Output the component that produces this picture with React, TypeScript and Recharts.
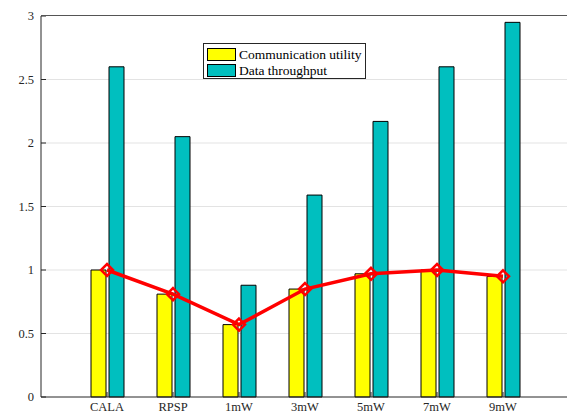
import React from 'react';
import { ComposedChart, Bar, Line, XAxis, YAxis, CartesianGrid } from 'recharts';

const categories = ['CALA', 'RPSP', '1mW', '3mW', '5mW', '7mW', '9mW'];
const utility = [1.0, 0.81, 0.57, 0.85, 0.97, 1.0, 0.95];
const throughput = [2.6, 2.05, 0.88, 1.59, 2.17, 2.6, 2.95];
const yTicks = [0, 0.5, 1, 1.5, 2, 2.5, 3];
const gridValues = [0.5, 1, 1.5, 2, 2.5];

const data = categories.map((name, i) => ({
  name,
  utility: utility[i],
  throughput: throughput[i],
}));

const FONT = '"Liberation Serif", "Times New Roman", serif';
const AXIS = '#262626';
const YELLOW = '#ffff00';
const CYAN = '#00bfbf';
const RED = '#ff0000';

const CHART_W = 575;
const CHART_H = 414;
const MARGIN = { top: 16, right: 6, bottom: 0, left: 0 };
const Y_AXIS_W = 41;

// bottom axis: category label plus an inward tick mark
const BottomTick = (props: any) => {
  const { x, y, payload } = props;
  return (
    <g>
      <line x1={x} y1={y} x2={x} y2={y - 5} stroke={AXIS} strokeWidth={1} />
      <text x={x} y={y + 14} textAnchor="middle" fontFamily={FONT} fontSize={12.5} fill={AXIS}>
        {payload.value}
      </text>
    </g>
  );
};

// left axis: value label plus an inward tick mark
const LeftTick = (props: any) => {
  const { x, y, payload } = props;
  return (
    <g>
      <line x1={x} y1={y} x2={x + 5} y2={y} stroke={AXIS} strokeWidth={1} />
      <text x={x - 7} y={y} dy="0.35em" textAnchor="end" fontFamily={FONT} fontSize={12.5} fill={AXIS}>
        {payload.value}
      </text>
    </g>
  );
};

const Diamond = (props: any) => {
  const { cx, cy, index } = props;
  if (cx == null || cy == null) return null;
  const r = 6;
  return (
    <polygon
      key={`d-${index}`}
      points={`${cx},${cy - r} ${cx + r},${cy} ${cx},${cy + r} ${cx - r},${cy}`}
      fill="none"
      stroke={RED}
      strokeWidth={2.5}
    />
  );
};

const legendItems = [
  { label: 'Communication utility', color: YELLOW },
  { label: 'Data throughput', color: CYAN },
];

const LegendBox = () => (
  <div
    style={{
      position: 'absolute',
      left: 203,
      top: 43,
      border: `1px solid ${AXIS}`,
      background: '#fff',
      width: 161,
      height: 34,
      fontFamily: FONT,
      fontSize: 13.5,
      color: '#000',
    }}
  >
    {legendItems.map((it, i) => (
      <div
        key={it.label}
        style={{ position: 'absolute', left: 3, top: 4 + i * 16, height: 13, display: 'flex', alignItems: 'center', whiteSpace: 'nowrap' }}
      >
        <span
          style={{
            display: 'inline-block',
            width: 27,
            height: 11,
            background: it.color,
            border: '1px solid #000',
            marginRight: 3,
          }}
        />
        <span style={{ lineHeight: '13px' }}>{it.label}</span>
      </div>
    ))}
  </div>
);

// upper edge of the axes box, aligned with the plot area
const TopEdge = () => (
  <div
    style={{
      position: 'absolute',
      left: MARGIN.left + Y_AXIS_W,
      top: MARGIN.top - 1,
      width: CHART_W - MARGIN.left - MARGIN.right - Y_AXIS_W,
      height: 0,
      borderTop: '1.5px solid #555',
      pointerEvents: 'none',
    }}
  />
);

export default function App() {
  return (
    <div style={{ position: 'absolute', left: 0, top: 0, width: 567, height: 414, overflow: 'hidden', background: '#fff' }}>
      <ComposedChart
        width={CHART_W}
        height={CHART_H}
        data={data}
        margin={MARGIN}
        barSize={15}
        barGap={3}
      >
        <CartesianGrid vertical={false} horizontalValues={gridValues} stroke="#e3e3e3" strokeWidth={1} />
        <XAxis
          dataKey="name"
          height={17}
          padding={{ left: 33, right: 33 }}
          axisLine={{ stroke: AXIS, strokeWidth: 1 }}
          tickLine={false}
          tickSize={0}
          tickMargin={0}
          tick={<BottomTick />}
          interval={0}
        />
        <YAxis
          width={Y_AXIS_W}
          domain={[0, 3]}
          ticks={yTicks}
          axisLine={{ stroke: AXIS, strokeWidth: 1 }}
          tickLine={false}
          tickSize={0}
          tickMargin={0}
          tick={<LeftTick />}
          interval={0}
        />
        <Bar dataKey="utility" name="Communication utility" fill={YELLOW} stroke="#000" strokeWidth={1} isAnimationActive={false} />
        <Bar dataKey="throughput" name="Data throughput" fill={CYAN} stroke="#000" strokeWidth={1} isAnimationActive={false} />
        <Line
          dataKey="utility"
          stroke={RED}
          strokeWidth={3.5}
          dot={<Diamond />}
          activeDot={false}
          isAnimationActive={false}
        />
      </ComposedChart>
      <TopEdge />
      <LegendBox />
    </div>
  );
}
